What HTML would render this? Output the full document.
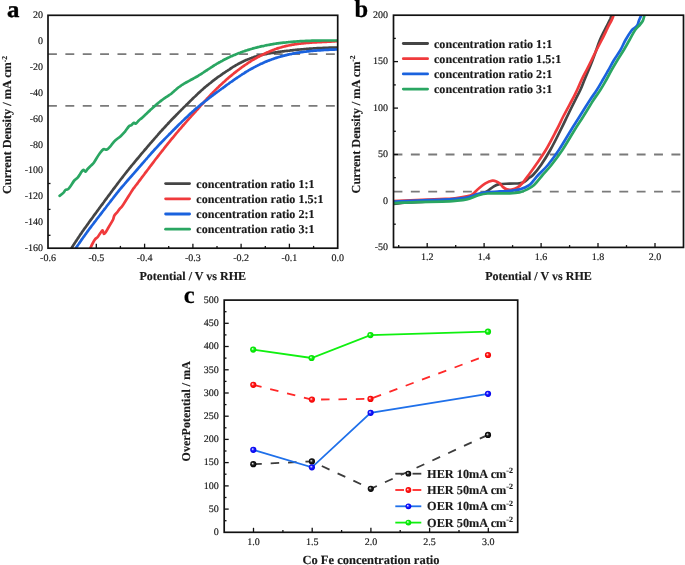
<!DOCTYPE html>
<html><head><meta charset="utf-8"><style>
html,body{margin:0;padding:0;background:#fff;width:685px;height:565px;overflow:hidden}
svg{display:block;filter:blur(0.4px)}
text{font-family:"Liberation Serif",serif;fill:#1a1a1a;text-rendering:geometricPrecision}
.tl{font-size:10px;stroke:#1a1a1a;stroke-width:0.18px}
.lg{font-size:12.1px;font-weight:bold;stroke:#1a1a1a;stroke-width:0.15px}
.at{font-size:12.5px;font-weight:bold;stroke:#1a1a1a;stroke-width:0.15px}
.at2{font-size:12.05px;font-weight:bold;stroke:#1a1a1a;stroke-width:0.15px}
.sup{font-size:7.5px}
.lgc{font-size:12.3px}
.at3{font-size:12.25px}
.sup2{font-size:8px}
.pl{font-size:23px;font-weight:bold;fill:#000}
</style></head><body>
<svg width="685" height="565" viewBox="0 0 685 565">
<defs>
<radialGradient id="g111" cx="0.5" cy="0.5" r="0.5" fx="0.36" fy="0.37"><stop offset="0" stop-color="#f0f0f0"/><stop offset="0.12" stop-color="#c8c8c8"/><stop offset="0.45" stop-color="#222"/><stop offset="1" stop-color="#000"/></radialGradient>
<radialGradient id="gff0000" cx="0.5" cy="0.5" r="0.5" fx="0.36" fy="0.37"><stop offset="0" stop-color="#fff0f0"/><stop offset="0.12" stop-color="#ffc0c0"/><stop offset="0.45" stop-color="#ff1a1a"/><stop offset="1" stop-color="#f00000"/></radialGradient>
<radialGradient id="g0a0aff" cx="0.5" cy="0.5" r="0.5" fx="0.36" fy="0.37"><stop offset="0" stop-color="#f0f0ff"/><stop offset="0.12" stop-color="#c0c0ff"/><stop offset="0.45" stop-color="#1a1aff"/><stop offset="1" stop-color="#0000e8"/></radialGradient>
<radialGradient id="g00f000" cx="0.5" cy="0.5" r="0.5" fx="0.36" fy="0.37"><stop offset="0" stop-color="#f0fff0"/><stop offset="0.12" stop-color="#c0ffc0"/><stop offset="0.45" stop-color="#10f010"/><stop offset="1" stop-color="#00dd00"/></radialGradient><clipPath id="ca"><rect x="48.0" y="15.3" width="289.7" height="232.89999999999998"/></clipPath>
<clipPath id="cb"><rect x="393.5" y="15.2" width="290.0" height="232.20000000000002"/></clipPath></defs>
<line x1="48" y1="54.1" x2="337.7" y2="54.1" stroke="#7a7a7a" stroke-width="1.8" stroke-dasharray="8.9 8.47"/>
<line x1="48" y1="105.9" x2="337.7" y2="105.9" stroke="#7a7a7a" stroke-width="1.8" stroke-dasharray="8.9 8.47"/>
<line x1="72.1" y1="248.2" x2="72.1" y2="245.9" stroke="#111" stroke-width="1.3"/>
<line x1="96.3" y1="248.2" x2="96.3" y2="243.7" stroke="#111" stroke-width="1.3"/>
<line x1="120.4" y1="248.2" x2="120.4" y2="245.9" stroke="#111" stroke-width="1.3"/>
<line x1="144.6" y1="248.2" x2="144.6" y2="243.7" stroke="#111" stroke-width="1.3"/>
<line x1="168.7" y1="248.2" x2="168.7" y2="245.9" stroke="#111" stroke-width="1.3"/>
<line x1="192.9" y1="248.2" x2="192.9" y2="243.7" stroke="#111" stroke-width="1.3"/>
<line x1="217" y1="248.2" x2="217" y2="245.9" stroke="#111" stroke-width="1.3"/>
<line x1="241.1" y1="248.2" x2="241.1" y2="243.7" stroke="#111" stroke-width="1.3"/>
<line x1="265.3" y1="248.2" x2="265.3" y2="245.9" stroke="#111" stroke-width="1.3"/>
<line x1="289.4" y1="248.2" x2="289.4" y2="243.7" stroke="#111" stroke-width="1.3"/>
<line x1="313.6" y1="248.2" x2="313.6" y2="245.9" stroke="#111" stroke-width="1.3"/>
<line x1="48" y1="183.5" x2="50.5" y2="183.5" stroke="#111" stroke-width="1.3"/>
<line x1="48" y1="209.4" x2="50.5" y2="209.4" stroke="#111" stroke-width="1.3"/>
<line x1="48" y1="235.3" x2="50.5" y2="235.3" stroke="#111" stroke-width="1.3"/>
<text x="48" y="261.2" class="tl" text-anchor="middle">-0.6</text>
<text x="96.3" y="261.2" class="tl" text-anchor="middle">-0.5</text>
<text x="144.6" y="261.2" class="tl" text-anchor="middle">-0.4</text>
<text x="192.9" y="261.2" class="tl" text-anchor="middle">-0.3</text>
<text x="241.1" y="261.2" class="tl" text-anchor="middle">-0.2</text>
<text x="289.4" y="261.2" class="tl" text-anchor="middle">-0.1</text>
<text x="337.7" y="261.2" class="tl" text-anchor="middle">0.0</text>
<text x="43" y="18.1" class="tl" text-anchor="end">20</text>
<text x="43" y="44" class="tl" text-anchor="end">0</text>
<text x="43" y="69.9" class="tl" text-anchor="end">-20</text>
<text x="43" y="95.7" class="tl" text-anchor="end">-40</text>
<text x="43" y="121.6" class="tl" text-anchor="end">-60</text>
<text x="43" y="147.5" class="tl" text-anchor="end">-80</text>
<text x="43" y="173.4" class="tl" text-anchor="end">-100</text>
<text x="43" y="199.2" class="tl" text-anchor="end">-120</text>
<text x="43" y="225.1" class="tl" text-anchor="end">-140</text>
<text x="43" y="251" class="tl" text-anchor="end">-160</text>
<g clip-path="url(#ca)" fill="none" stroke-width="2.7" stroke-linejoin="round" stroke-linecap="round">
<path d="M71.6,248 C71.9,247.5 72.9,245.9 73.6,244.8 C74.3,243.8 74.9,242.7 75.6,241.7 C76.3,240.7 76.9,239.7 77.6,238.7 C78.3,237.7 78.9,236.7 79.6,235.7 C80.3,234.7 80.9,233.7 81.6,232.8 C82.3,231.8 82.9,230.9 83.6,229.9 C84.3,229 84.9,228 85.6,227.1 C86.3,226.1 86.9,225.2 87.6,224.3 C88.3,223.4 88.9,222.4 89.6,221.5 C90.3,220.6 90.9,219.7 91.6,218.8 C92.3,217.9 92.9,217 93.6,216 C94.3,215.1 94.9,214.2 95.6,213.3 C96.3,212.4 96.9,211.5 97.6,210.6 C98.3,209.7 98.9,208.8 99.6,207.9 C100.3,207 100.9,206.1 101.6,205.2 C102.3,204.3 102.9,203.4 103.6,202.5 C104.3,201.5 104.9,200.6 105.6,199.7 C106.3,198.8 106.9,197.9 107.6,197 C108.3,196.1 108.9,195.2 109.6,194.3 C110.3,193.4 110.9,192.5 111.6,191.6 C112.3,190.7 112.9,189.8 113.6,188.9 C114.3,188 114.9,187.2 115.6,186.3 C116.3,185.4 116.9,184.5 117.6,183.6 C118.3,182.7 118.9,181.9 119.6,181 C120.3,180.1 120.9,179.2 121.6,178.4 C122.3,177.5 122.9,176.7 123.6,175.8 C124.3,174.9 124.9,174.1 125.6,173.2 C126.3,172.4 126.9,171.6 127.6,170.7 C128.3,169.9 128.9,169 129.6,168.2 C130.3,167.4 130.9,166.6 131.6,165.7 C132.3,164.9 132.9,164.1 133.6,163.3 C134.3,162.5 134.9,161.7 135.6,160.9 C136.3,160.1 136.9,159.3 137.6,158.5 C138.3,157.7 138.9,156.9 139.6,156.1 C140.3,155.3 140.9,154.5 141.6,153.7 C142.3,152.9 142.9,152.1 143.6,151.4 C144.3,150.6 144.9,149.8 145.6,149 C146.3,148.2 146.9,147.4 147.6,146.6 C148.3,145.9 148.9,145.1 149.6,144.3 C150.3,143.5 150.9,142.7 151.6,142 C152.3,141.2 152.9,140.4 153.6,139.7 C154.3,138.9 154.9,138.1 155.6,137.4 C156.3,136.6 156.9,135.8 157.6,135.1 C158.3,134.3 158.9,133.6 159.6,132.8 C160.3,132.1 160.9,131.3 161.6,130.6 C162.3,129.9 162.9,129.1 163.6,128.4 C164.3,127.7 164.9,126.9 165.6,126.2 C166.3,125.5 166.9,124.8 167.6,124.1 C168.3,123.4 168.9,122.6 169.6,121.9 C170.3,121.2 170.9,120.5 171.6,119.8 C172.3,119.1 172.9,118.5 173.6,117.8 C174.3,117.1 174.9,116.4 175.6,115.7 C176.3,115 176.9,114.3 177.6,113.7 C178.3,113 178.9,112.3 179.6,111.6 C180.3,111 180.9,110.3 181.6,109.6 C182.3,109 182.9,108.3 183.6,107.6 C184.3,107 184.9,106.3 185.6,105.7 C186.3,105 186.9,104.3 187.6,103.7 C188.3,103 188.9,102.4 189.6,101.7 C190.3,101.1 190.9,100.4 191.6,99.8 C192.3,99.1 192.9,98.5 193.6,97.8 C194.3,97.2 194.9,96.5 195.6,95.9 C196.3,95.3 196.9,94.6 197.6,94 C198.3,93.4 198.9,92.7 199.6,92.1 C200.3,91.5 200.9,90.9 201.6,90.3 C202.3,89.7 202.9,89.1 203.6,88.5 C204.3,87.9 204.9,87.4 205.6,86.8 C206.3,86.2 206.9,85.7 207.6,85.1 C208.3,84.6 208.9,84.1 209.6,83.5 C210.3,83 210.9,82.5 211.6,81.9 C212.3,81.4 212.9,80.9 213.6,80.4 C214.3,79.9 214.9,79.4 215.6,78.9 C216.3,78.4 216.9,77.9 217.6,77.4 C218.3,77 218.9,76.5 219.6,76 C220.3,75.5 220.9,75.1 221.6,74.6 C222.3,74.1 222.9,73.7 223.6,73.2 C224.3,72.8 224.9,72.3 225.6,71.9 C226.3,71.4 226.9,71 227.6,70.6 C228.3,70.1 228.9,69.7 229.6,69.3 C230.3,68.8 230.9,68.4 231.6,68 C232.3,67.5 232.9,67.1 233.6,66.7 C234.3,66.3 234.9,65.9 235.6,65.5 C236.3,65.1 236.9,64.7 237.6,64.3 C238.3,64 238.9,63.6 239.6,63.2 C240.3,62.9 240.9,62.5 241.6,62.2 C242.3,61.9 242.9,61.5 243.6,61.2 C244.3,60.9 244.9,60.6 245.6,60.3 C246.3,60 246.9,59.7 247.6,59.5 C248.3,59.2 248.9,58.9 249.6,58.7 C250.3,58.4 250.9,58.2 251.6,57.9 C252.3,57.7 252.9,57.5 253.6,57.3 C254.3,57 254.9,56.8 255.6,56.6 C256.3,56.4 256.9,56.2 257.6,56 C258.3,55.9 258.9,55.7 259.6,55.5 C260.3,55.3 260.9,55.2 261.6,55 C262.3,54.8 262.9,54.7 263.6,54.5 C264.3,54.4 264.9,54.2 265.6,54.1 C266.3,54 266.9,53.8 267.6,53.7 C268.3,53.6 268.9,53.5 269.6,53.3 C270.3,53.2 270.9,53.1 271.6,53 C272.3,52.9 272.9,52.8 273.6,52.7 C274.3,52.6 274.9,52.5 275.6,52.4 C276.3,52.3 276.9,52.2 277.6,52.1 C278.3,52 278.9,51.9 279.6,51.8 C280.3,51.7 280.9,51.6 281.6,51.5 C282.3,51.4 282.9,51.4 283.6,51.3 C284.3,51.2 284.9,51.1 285.6,51 C286.3,50.9 286.9,50.9 287.6,50.8 C288.3,50.7 288.9,50.6 289.6,50.6 C290.3,50.5 290.9,50.4 291.6,50.3 C292.3,50.3 292.9,50.2 293.6,50.1 C294.3,50 294.9,50 295.6,49.9 C296.3,49.8 296.9,49.8 297.6,49.7 C298.3,49.6 298.9,49.6 299.6,49.5 C300.3,49.5 300.9,49.4 301.6,49.3 C302.3,49.3 302.9,49.2 303.6,49.2 C304.3,49.1 304.9,49.1 305.6,49 C306.3,49 306.9,48.9 307.6,48.9 C308.3,48.8 308.9,48.8 309.6,48.7 C310.3,48.7 310.9,48.6 311.6,48.6 C312.3,48.5 312.9,48.5 313.6,48.4 C314.3,48.4 314.9,48.4 315.6,48.3 C316.3,48.3 316.9,48.3 317.6,48.2 C318.3,48.2 318.9,48.1 319.6,48.1 C320.3,48.1 320.9,48 321.6,48 C322.3,48 322.9,48 323.6,47.9 C324.3,47.9 324.9,47.9 325.6,47.8 C326.3,47.8 326.9,47.8 327.6,47.8 C328.3,47.7 328.9,47.7 329.6,47.7 C330.3,47.7 330.9,47.7 331.6,47.6 C332.3,47.6 332.9,47.6 333.6,47.6 C334.3,47.6 335.1,47.6 335.6,47.6 C336.1,47.5 336.6,47.5 336.8,47.5" stroke="#454545"/>
<path d="M90.4,248 C90.8,247.2 91.8,245 92.6,243.5 C93.4,242 94.4,240.2 95.2,239.2 C96,238.2 96.5,238.4 97.4,237.4 C98.3,236.4 99.5,234.2 100.4,233 C101.3,231.8 102,230.2 102.6,230.4 C103.2,230.6 103.4,233.6 103.9,233.9 C104.4,234.2 105,233.2 105.7,232.2 C106.4,231.2 107.4,229.3 108.3,227.8 C109.2,226.3 110.1,224.8 110.9,223.4 C111.7,222 112.5,220.8 113.1,219.5 C113.7,218.2 113.7,216.7 114.4,215.5 C115.1,214.3 116.2,213.5 117.1,212.4 C118,211.3 118.7,210.1 119.7,208.9 C120.7,207.7 120.9,208.1 123,205 C125.1,201.9 130.6,192.9 132.5,190 C134.4,187.1 133.8,188.2 134.5,187.3 C135.2,186.4 135.8,185.5 136.5,184.7 C137.2,183.8 137.8,182.9 138.5,182 C139.2,181.1 139.8,180.2 140.5,179.3 C141.2,178.4 141.8,177.5 142.5,176.6 C143.2,175.8 143.8,174.9 144.5,174 C145.2,173.1 145.8,172.2 146.5,171.3 C147.2,170.4 147.8,169.6 148.5,168.7 C149.2,167.8 149.8,166.9 150.5,166 C151.2,165.2 151.8,164.3 152.5,163.4 C153.2,162.5 153.8,161.7 154.5,160.8 C155.2,159.9 155.8,159 156.5,158.2 C157.2,157.3 157.8,156.5 158.5,155.6 C159.2,154.7 159.8,153.9 160.5,153 C161.2,152.2 161.8,151.3 162.5,150.5 C163.2,149.6 163.8,148.8 164.5,147.9 C165.2,147.1 165.8,146.2 166.5,145.4 C167.2,144.6 167.8,143.7 168.5,142.9 C169.2,142.1 169.8,141.3 170.5,140.4 C171.2,139.6 171.8,138.8 172.5,138 C173.2,137.2 173.8,136.4 174.5,135.6 C175.2,134.8 175.8,134 176.5,133.2 C177.2,132.4 177.8,131.6 178.5,130.8 C179.2,130 179.8,129.2 180.5,128.5 C181.2,127.7 181.8,126.9 182.5,126.1 C183.2,125.4 183.8,124.6 184.5,123.9 C185.2,123.1 185.8,122.3 186.5,121.6 C187.2,120.8 187.8,120.1 188.5,119.3 C189.2,118.6 189.8,117.8 190.5,117.1 C191.2,116.3 191.8,115.6 192.5,114.8 C193.2,114.1 193.8,113.4 194.5,112.6 C195.2,111.9 195.8,111.1 196.5,110.4 C197.2,109.7 197.8,108.9 198.5,108.2 C199.2,107.4 199.8,106.7 200.5,105.9 C201.2,105.2 201.8,104.5 202.5,103.7 C203.2,103 203.8,102.3 204.5,101.5 C205.2,100.8 205.8,100.1 206.5,99.3 C207.2,98.6 207.8,97.9 208.5,97.2 C209.2,96.5 209.8,95.8 210.5,95 C211.2,94.3 211.8,93.6 212.5,93 C213.2,92.3 213.8,91.6 214.5,90.9 C215.2,90.2 215.8,89.6 216.5,88.9 C217.2,88.2 217.8,87.6 218.5,87 C219.2,86.3 219.8,85.7 220.5,85.1 C221.2,84.4 221.8,83.8 222.5,83.2 C223.2,82.6 223.8,82 224.5,81.4 C225.2,80.8 225.8,80.2 226.5,79.6 C227.2,79 227.8,78.4 228.5,77.9 C229.2,77.3 229.8,76.7 230.5,76.2 C231.2,75.6 231.8,75.1 232.5,74.5 C233.2,74 233.8,73.4 234.5,72.9 C235.2,72.4 235.8,71.8 236.5,71.3 C237.2,70.8 237.8,70.3 238.5,69.8 C239.2,69.3 239.8,68.8 240.5,68.3 C241.2,67.8 241.8,67.3 242.5,66.8 C243.2,66.4 243.8,65.9 244.5,65.4 C245.2,65 245.8,64.5 246.5,64.1 C247.2,63.6 247.8,63.2 248.5,62.7 C249.2,62.3 249.8,61.9 250.5,61.5 C251.2,61 251.8,60.6 252.5,60.2 C253.2,59.8 253.8,59.4 254.5,59 C255.2,58.6 255.8,58.2 256.5,57.9 C257.2,57.5 257.8,57.1 258.5,56.8 C259.2,56.4 259.8,56 260.5,55.7 C261.2,55.3 261.8,55 262.5,54.7 C263.2,54.3 263.8,54 264.5,53.7 C265.2,53.4 265.8,53.1 266.5,52.8 C267.2,52.5 267.8,52.2 268.5,51.9 C269.2,51.6 269.8,51.3 270.5,51 C271.2,50.8 271.8,50.5 272.5,50.2 C273.2,50 273.8,49.7 274.5,49.5 C275.2,49.2 275.8,49 276.5,48.8 C277.2,48.5 277.8,48.3 278.5,48.1 C279.2,47.9 279.8,47.7 280.5,47.5 C281.2,47.3 281.8,47.1 282.5,46.9 C283.2,46.8 283.8,46.6 284.5,46.4 C285.2,46.2 285.8,46.1 286.5,45.9 C287.2,45.8 287.8,45.6 288.5,45.5 C289.2,45.4 289.8,45.2 290.5,45.1 C291.2,45 291.8,44.8 292.5,44.7 C293.2,44.6 293.8,44.5 294.5,44.4 C295.2,44.3 295.8,44.2 296.5,44.1 C297.2,44 297.8,43.9 298.5,43.8 C299.2,43.7 299.8,43.6 300.5,43.6 C301.2,43.5 301.8,43.4 302.5,43.3 C303.2,43.3 303.8,43.2 304.5,43.1 C305.2,43.1 305.8,43 306.5,43 C307.2,42.9 307.8,42.9 308.5,42.8 C309.2,42.7 309.8,42.7 310.5,42.7 C311.2,42.6 311.8,42.6 312.5,42.5 C313.2,42.5 313.8,42.4 314.5,42.4 C315.2,42.4 315.8,42.3 316.5,42.3 C317.2,42.3 317.8,42.2 318.5,42.2 C319.2,42.1 319.8,42.1 320.5,42.1 C321.2,42.1 321.8,42 322.5,42 C323.2,42 323.8,41.9 324.5,41.9 C325.2,41.9 325.8,41.8 326.5,41.8 C327.2,41.8 327.8,41.7 328.5,41.7 C329.2,41.7 329.8,41.6 330.5,41.6 C331.2,41.5 331.8,41.5 332.5,41.5 C333.2,41.4 333.8,41.4 334.5,41.3 C335.2,41.3 336.1,41.2 336.5,41.2 C336.9,41.2 336.8,41.2 336.8,41.2" stroke="#f03a3c"/>
<path d="M76,248 C76.3,247.5 77.3,246 78,245 C78.7,244 79.3,243 80,242.1 C80.7,241.1 81.3,240.1 82,239.2 C82.7,238.2 83.3,237.3 84,236.4 C84.7,235.4 85.3,234.5 86,233.6 C86.7,232.7 87.3,231.8 88,230.9 C88.7,230 89.3,229.1 90,228.2 C90.7,227.3 91.3,226.4 92,225.5 C92.7,224.6 93.3,223.8 94,222.9 C94.7,222 95.3,221.1 96,220.3 C96.7,219.4 97.3,218.5 98,217.7 C98.7,216.8 99.3,215.9 100,215.1 C100.7,214.2 101.3,213.3 102,212.5 C102.7,211.6 103.3,210.7 104,209.9 C104.7,209 105.3,208.1 106,207.3 C106.7,206.4 107.3,205.5 108,204.7 C108.7,203.8 109.3,202.9 110,202.1 C110.7,201.2 111.3,200.3 112,199.5 C112.7,198.6 113.3,197.8 114,196.9 C114.7,196.1 115.3,195.2 116,194.4 C116.7,193.5 117.3,192.7 118,191.9 C118.7,191 119.3,190.2 120,189.4 C120.7,188.6 121.3,187.8 122,187 C122.7,186.2 123.3,185.4 124,184.7 C124.7,183.9 125.3,183.1 126,182.3 C126.7,181.5 127.3,180.8 128,180 C128.7,179.2 129.3,178.5 130,177.7 C130.7,177 131.3,176.2 132,175.5 C132.7,174.7 133.3,173.9 134,173.2 C134.7,172.4 135.3,171.7 136,170.9 C136.7,170.1 137.3,169.4 138,168.6 C138.7,167.8 139.3,167.1 140,166.3 C140.7,165.5 141.3,164.8 142,164 C142.7,163.2 143.3,162.4 144,161.7 C144.7,160.9 145.3,160.1 146,159.4 C146.7,158.6 147.3,157.8 148,157.1 C148.7,156.3 149.3,155.6 150,154.8 C150.7,154 151.3,153.3 152,152.5 C152.7,151.8 153.3,151.1 154,150.3 C154.7,149.6 155.3,148.9 156,148.1 C156.7,147.4 157.3,146.7 158,146 C158.7,145.3 159.3,144.5 160,143.8 C160.7,143.1 161.3,142.4 162,141.7 C162.7,141 163.3,140.4 164,139.7 C164.7,139 165.3,138.3 166,137.6 C166.7,136.9 167.3,136.3 168,135.6 C168.7,134.9 169.3,134.2 170,133.6 C170.7,132.9 171.3,132.2 172,131.5 C172.7,130.9 173.3,130.2 174,129.5 C174.7,128.9 175.3,128.2 176,127.5 C176.7,126.9 177.3,126.2 178,125.5 C178.7,124.9 179.3,124.2 180,123.6 C180.7,122.9 181.3,122.3 182,121.6 C182.7,121 183.3,120.3 184,119.7 C184.7,119 185.3,118.4 186,117.8 C186.7,117.1 187.3,116.5 188,115.9 C188.7,115.2 189.3,114.6 190,114 C190.7,113.4 191.3,112.8 192,112.2 C192.7,111.6 193.3,111 194,110.4 C194.7,109.8 195.3,109.2 196,108.7 C196.7,108.1 197.3,107.5 198,107 C198.7,106.4 199.3,105.8 200,105.3 C200.7,104.7 201.3,104.2 202,103.7 C202.7,103.1 203.3,102.6 204,102.1 C204.7,101.5 205.3,101 206,100.5 C206.7,100 207.3,99.5 208,98.9 C208.7,98.4 209.3,97.9 210,97.4 C210.7,96.9 211.3,96.4 212,95.9 C212.7,95.4 213.3,94.9 214,94.4 C214.7,93.9 215.3,93.4 216,92.9 C216.7,92.4 217.3,92 218,91.5 C218.7,91 219.3,90.5 220,90 C220.7,89.5 221.3,89 222,88.5 C222.7,88 223.3,87.6 224,87.1 C224.7,86.6 225.3,86.1 226,85.6 C226.7,85.1 227.3,84.6 228,84.2 C228.7,83.7 229.3,83.2 230,82.7 C230.7,82.3 231.3,81.8 232,81.3 C232.7,80.8 233.3,80.4 234,79.9 C234.7,79.4 235.3,79 236,78.5 C236.7,78.1 237.3,77.6 238,77.2 C238.7,76.7 239.3,76.3 240,75.8 C240.7,75.4 241.3,75 242,74.5 C242.7,74.1 243.3,73.7 244,73.3 C244.7,72.8 245.3,72.4 246,72 C246.7,71.6 247.3,71.2 248,70.8 C248.7,70.4 249.3,70 250,69.6 C250.7,69.2 251.3,68.9 252,68.5 C252.7,68.1 253.3,67.8 254,67.4 C254.7,67 255.3,66.7 256,66.3 C256.7,66 257.3,65.7 258,65.3 C258.7,65 259.3,64.7 260,64.3 C260.7,64 261.3,63.7 262,63.4 C262.7,63.1 263.3,62.8 264,62.5 C264.7,62.2 265.3,61.9 266,61.6 C266.7,61.4 267.3,61.1 268,60.8 C268.7,60.6 269.3,60.3 270,60 C270.7,59.8 271.3,59.5 272,59.3 C272.7,59.1 273.3,58.8 274,58.6 C274.7,58.4 275.3,58.1 276,57.9 C276.7,57.7 277.3,57.5 278,57.3 C278.7,57.1 279.3,56.9 280,56.7 C280.7,56.5 281.3,56.3 282,56.1 C282.7,55.9 283.3,55.8 284,55.6 C284.7,55.4 285.3,55.3 286,55.1 C286.7,54.9 287.3,54.8 288,54.6 C288.7,54.5 289.3,54.3 290,54.2 C290.7,54 291.3,53.9 292,53.8 C292.7,53.6 293.3,53.5 294,53.4 C294.7,53.3 295.3,53.1 296,53 C296.7,52.9 297.3,52.8 298,52.7 C298.7,52.6 299.3,52.5 300,52.4 C300.7,52.3 301.3,52.2 302,52.1 C302.7,52 303.3,51.9 304,51.8 C304.7,51.7 305.3,51.6 306,51.6 C306.7,51.5 307.3,51.4 308,51.3 C308.7,51.3 309.3,51.2 310,51.1 C310.7,51 311.3,51 312,50.9 C312.7,50.9 313.3,50.8 314,50.7 C314.7,50.7 315.3,50.6 316,50.6 C316.7,50.5 317.3,50.5 318,50.4 C318.7,50.4 319.3,50.3 320,50.3 C320.7,50.2 321.3,50.2 322,50.2 C322.7,50.1 323.3,50.1 324,50 C324.7,50 325.3,50 326,49.9 C326.7,49.9 327.3,49.9 328,49.8 C328.7,49.8 329.3,49.8 330,49.7 C330.7,49.7 331.3,49.7 332,49.6 C332.7,49.6 333.3,49.6 334,49.6 C334.7,49.5 335.5,49.5 336,49.5 C336.5,49.5 336.7,49.4 336.8,49.4" stroke="#1a62de"/>
<path d="M59.6,195.8 C60.3,195.3 62.6,193.6 63.6,192.6 C64.6,191.6 64.6,190.6 65.4,190 C66.2,189.4 67.4,189.7 68.3,189 C69.2,188.3 69.8,187.2 70.8,185.8 C71.8,184.4 73.1,181.9 74.3,180.5 C75.5,179.1 76.9,178.6 77.9,177.4 C78.9,176.2 79.6,174.7 80.5,173.4 C81.4,172.2 82.4,170.2 83.2,169.9 C84,169.6 84.7,171.8 85.4,171.6 C86.1,171.4 86.6,170 87.6,169 C88.6,168 90.1,166.5 91.2,165.4 C92.3,164.3 92.7,164.3 94,162.4 C95.3,160.5 97.7,156.2 99.3,154 C100.9,151.8 102.1,150 103.4,149.3 C104.7,148.6 105.7,150.1 106.9,149.6 C108.1,149.1 109.2,147.8 110.4,146.4 C111.7,145 112.6,142.9 114.4,141.2 C116.2,139.4 119.2,137.5 120.9,135.9 C122.7,134.3 123.6,133.2 125,131.6 C126.3,130 128,127.2 129,126.2 C130,125.2 130.1,126.1 130.9,125.5 C131.8,124.9 133.2,123.1 134,122.8 C134.8,122.5 135.1,124 135.9,123.6 C136.7,123.2 137.9,121.4 138.9,120.4 C139.9,119.5 140.7,119 141.9,117.9 C143.1,116.8 145.1,115 146.1,114.1 C147.1,113.1 147.4,112.8 148.1,112.1 C148.8,111.5 149.4,110.9 150.1,110.2 C150.8,109.6 151.4,109 152.1,108.4 C152.8,107.8 153.4,107.2 154.1,106.6 C154.8,106 155.4,105.4 156.1,104.8 C156.8,104.2 157.4,103.6 158.1,103.1 C158.8,102.5 159.4,102 160.1,101.5 C160.8,101 161.4,100.4 162.1,100 C162.8,99.5 163.4,99 164.1,98.5 C164.8,98.1 165.4,97.7 166.1,97.2 C166.8,96.8 167.4,96.4 168.1,95.9 C168.8,95.4 169.4,95 170.1,94.5 C170.8,94 171.4,93.5 172.1,92.9 C172.8,92.4 173.4,91.8 174.1,91.2 C174.8,90.6 175.4,90 176.1,89.4 C176.8,88.8 177.4,88.3 178.1,87.7 C178.8,87.2 179.4,86.7 180.1,86.3 C180.8,85.8 181.4,85.3 182.1,84.9 C182.8,84.5 183.4,84.1 184.1,83.7 C184.8,83.3 185.4,82.9 186.1,82.5 C186.8,82.1 187.4,81.8 188.1,81.4 C188.8,81.1 189.4,80.7 190.1,80.3 C190.8,80 191.4,79.6 192.1,79.3 C192.8,78.9 193.4,78.6 194.1,78.2 C194.8,77.8 195.4,77.4 196.1,77 C196.8,76.7 197.4,76.3 198.1,75.9 C198.8,75.4 199.4,75 200.1,74.6 C200.8,74.2 201.4,73.8 202.1,73.3 C202.8,72.9 203.4,72.5 204.1,72 C204.8,71.6 205.4,71.2 206.1,70.7 C206.8,70.3 207.4,69.8 208.1,69.4 C208.8,69 209.4,68.5 210.1,68.1 C210.8,67.6 211.4,67.2 212.1,66.8 C212.8,66.4 213.4,65.9 214.1,65.5 C214.8,65.1 215.4,64.7 216.1,64.3 C216.8,63.9 217.4,63.5 218.1,63.1 C218.8,62.7 219.4,62.3 220.1,62 C220.8,61.6 221.4,61.2 222.1,60.9 C222.8,60.5 223.4,60.1 224.1,59.8 C224.8,59.5 225.4,59.1 226.1,58.8 C226.8,58.4 227.4,58.1 228.1,57.8 C228.8,57.5 229.4,57.2 230.1,56.8 C230.8,56.5 231.4,56.2 232.1,55.9 C232.8,55.6 233.4,55.4 234.1,55.1 C234.8,54.8 235.4,54.5 236.1,54.2 C236.8,54 237.4,53.7 238.1,53.4 C238.8,53.2 239.4,52.9 240.1,52.7 C240.8,52.4 241.4,52.2 242.1,51.9 C242.8,51.7 243.4,51.4 244.1,51.2 C244.8,51 245.4,50.8 246.1,50.5 C246.8,50.3 247.4,50.1 248.1,49.9 C248.8,49.7 249.4,49.5 250.1,49.3 C250.8,49.1 251.4,48.9 252.1,48.7 C252.8,48.5 253.4,48.3 254.1,48.1 C254.8,48 255.4,47.8 256.1,47.6 C256.8,47.4 257.4,47.3 258.1,47.1 C258.8,47 259.4,46.8 260.1,46.6 C260.8,46.5 261.4,46.3 262.1,46.2 C262.8,46 263.4,45.9 264.1,45.8 C264.8,45.6 265.4,45.5 266.1,45.3 C266.8,45.2 267.4,45.1 268.1,45 C268.8,44.8 269.4,44.7 270.1,44.6 C270.8,44.5 271.4,44.4 272.1,44.3 C272.8,44.1 273.4,44 274.1,43.9 C274.8,43.8 275.4,43.7 276.1,43.6 C276.8,43.5 277.4,43.4 278.1,43.3 C278.8,43.2 279.4,43.2 280.1,43.1 C280.8,43 281.4,42.9 282.1,42.8 C282.8,42.7 283.4,42.7 284.1,42.6 C284.8,42.5 285.4,42.4 286.1,42.4 C286.8,42.3 287.4,42.2 288.1,42.2 C288.8,42.1 289.4,42 290.1,42 C290.8,41.9 291.4,41.9 292.1,41.8 C292.8,41.8 293.4,41.7 294.1,41.6 C294.8,41.6 295.4,41.5 296.1,41.5 C296.8,41.5 297.4,41.4 298.1,41.4 C298.8,41.3 299.4,41.3 300.1,41.2 C300.8,41.2 301.4,41.2 302.1,41.1 C302.8,41.1 303.4,41.1 304.1,41 C304.8,41 305.4,41 306.1,40.9 C306.8,40.9 307.4,40.9 308.1,40.9 C308.8,40.8 309.4,40.8 310.1,40.8 C310.8,40.8 311.4,40.8 312.1,40.7 C312.8,40.7 313.4,40.7 314.1,40.7 C314.8,40.7 315.4,40.7 316.1,40.6 C316.8,40.6 317.4,40.6 318.1,40.6 C318.8,40.6 319.4,40.6 320.1,40.6 C320.8,40.6 321.4,40.6 322.1,40.5 C322.8,40.5 323.4,40.5 324.1,40.5 C324.8,40.5 325.4,40.5 326.1,40.5 C326.8,40.5 327.4,40.5 328.1,40.5 C328.8,40.5 329.4,40.5 330.1,40.5 C330.8,40.5 331.4,40.5 332.1,40.5 C332.8,40.5 333.4,40.5 334.1,40.5 C334.8,40.5 335.6,40.5 336.1,40.5 C336.6,40.5 336.9,40.5 337.1,40.5" stroke="#2aa662"/>
</g>
<rect x="48" y="15.3" width="289.7" height="232.9" fill="none" stroke="#111" stroke-width="1.7"/>
<line x1="165.6" y1="183.6" x2="189.6" y2="183.6" stroke="#454545" stroke-width="2.8" stroke-linecap="round"/>
<text x="196.3" y="187.8" class="lg">concentration ratio 1:1</text>
<line x1="165.6" y1="198.8" x2="189.6" y2="198.8" stroke="#f03a3c" stroke-width="2.8" stroke-linecap="round"/>
<text x="196.3" y="203" class="lg">concentration ratio 1.5:1</text>
<line x1="165.6" y1="214" x2="189.6" y2="214" stroke="#1a62de" stroke-width="2.8" stroke-linecap="round"/>
<text x="196.3" y="218.2" class="lg">concentration ratio 2:1</text>
<line x1="165.6" y1="229.2" x2="189.6" y2="229.2" stroke="#2aa662" stroke-width="2.8" stroke-linecap="round"/>
<text x="196.3" y="233.4" class="lg">concentration ratio 3:1</text>
<text x="192.8" y="279.8" class="at2" text-anchor="middle">Potential / V vs RHE</text>
<text transform="translate(11.0,125) rotate(-90)" class="at at3" text-anchor="middle">Current Density / mA cm<tspan class="sup" dy="-4.5">-2</tspan></text>
<text transform="translate(7,16.8) scale(1.08,1)" class="pl" style="stroke:#000;stroke-width:0.35px">a</text>
<line x1="393.5" y1="191.7" x2="683.5" y2="191.7" stroke="#7a7a7a" stroke-width="1.8" stroke-dasharray="8.9 8.47"/>
<line x1="393.5" y1="154.5" x2="683.5" y2="154.5" stroke="#7a7a7a" stroke-width="1.8" stroke-dasharray="8.9 8.47"/>
<line x1="398.7" y1="247.4" x2="398.7" y2="245.1" stroke="#111" stroke-width="1.3"/>
<line x1="427.2" y1="247.4" x2="427.2" y2="242.9" stroke="#111" stroke-width="1.3"/>
<line x1="455.7" y1="247.4" x2="455.7" y2="245.1" stroke="#111" stroke-width="1.3"/>
<line x1="484.1" y1="247.4" x2="484.1" y2="242.9" stroke="#111" stroke-width="1.3"/>
<line x1="512.6" y1="247.4" x2="512.6" y2="245.1" stroke="#111" stroke-width="1.3"/>
<line x1="541.1" y1="247.4" x2="541.1" y2="242.9" stroke="#111" stroke-width="1.3"/>
<line x1="569.6" y1="247.4" x2="569.6" y2="245.1" stroke="#111" stroke-width="1.3"/>
<line x1="598" y1="247.4" x2="598" y2="242.9" stroke="#111" stroke-width="1.3"/>
<line x1="626.5" y1="247.4" x2="626.5" y2="245.1" stroke="#111" stroke-width="1.3"/>
<line x1="655" y1="247.4" x2="655" y2="242.9" stroke="#111" stroke-width="1.3"/>
<line x1="393.5" y1="38.4" x2="395.8" y2="38.4" stroke="#111" stroke-width="1.3"/>
<line x1="393.5" y1="61.6" x2="398" y2="61.6" stroke="#111" stroke-width="1.3"/>
<line x1="393.5" y1="84.9" x2="395.8" y2="84.9" stroke="#111" stroke-width="1.3"/>
<line x1="393.5" y1="108.1" x2="398" y2="108.1" stroke="#111" stroke-width="1.3"/>
<line x1="393.5" y1="131.3" x2="395.8" y2="131.3" stroke="#111" stroke-width="1.3"/>
<line x1="393.5" y1="154.5" x2="398" y2="154.5" stroke="#111" stroke-width="1.3"/>
<line x1="393.5" y1="177.7" x2="395.8" y2="177.7" stroke="#111" stroke-width="1.3"/>
<line x1="393.5" y1="201" x2="398" y2="201" stroke="#111" stroke-width="1.3"/>
<line x1="393.5" y1="224.2" x2="395.8" y2="224.2" stroke="#111" stroke-width="1.3"/>
<text x="427.2" y="260.4" class="tl" text-anchor="middle">1.2</text>
<text x="484.1" y="260.4" class="tl" text-anchor="middle">1.4</text>
<text x="541.1" y="260.4" class="tl" text-anchor="middle">1.6</text>
<text x="598" y="260.4" class="tl" text-anchor="middle">1.8</text>
<text x="655" y="260.4" class="tl" text-anchor="middle">2.0</text>
<text x="388" y="18" class="tl" text-anchor="end">200</text>
<text x="388" y="64.4" class="tl" text-anchor="end">150</text>
<text x="388" y="110.9" class="tl" text-anchor="end">100</text>
<text x="388" y="157.3" class="tl" text-anchor="end">50</text>
<text x="388" y="203.8" class="tl" text-anchor="end">0</text>
<text x="388" y="250.2" class="tl" text-anchor="end">-50</text>
<g clip-path="url(#cb)" fill="none" stroke-width="2.7" stroke-linejoin="round" stroke-linecap="round">
<path d="M393.5,203.9 C394.9,203.7 399.2,203.1 402,202.8 C404.8,202.5 406.2,202.5 410.5,202.3 C414.8,202.1 422.1,201.8 428,201.5 C433.9,201.2 441.1,200.9 445.6,200.6 C450.1,200.3 451.5,200.2 455,199.7 C458.5,199.2 462.8,198.5 466.7,197.6 C470.6,196.7 475.1,195.5 478.4,194.5 C481.7,193.5 484,192.9 486.5,191.6 C489,190.3 491.4,187.8 493.5,186.6 C495.6,185.4 496.7,184.7 499.4,184.2 C502.1,183.7 506.3,183.8 509.7,183.6 C513,183.4 517,183.6 519.5,183.3 C522,183 522.8,182.6 524.4,181.7 C526,180.8 527.8,178.9 529.2,177.8 C530.6,176.7 531,177.1 533,175 C535,172.9 538.1,169.2 541,165 C543.9,160.8 547,155.8 550.3,150 C553.6,144.2 557.8,135.7 560.6,130 C563.5,124.3 565,121 567.4,116 C569.8,111 573.1,104.3 575.3,100 C577.4,95.7 578.8,93.3 580.3,90 C581.8,86.7 583,83.3 584.4,80 C585.8,76.7 587.2,73.3 588.6,70 C590,66.7 591.3,63.3 592.6,60 C593.9,56.7 595.1,53.3 596.3,50 C597.5,46.7 598.5,43.3 599.9,40 C601.3,36.7 603.5,32.5 604.7,30 C605.9,27.5 606.4,26.8 607.3,25 C608.2,23.2 609.5,20.7 610.3,19 C611,17.3 611.5,15.7 611.8,15" stroke="#454545"/>
<path d="M393.5,201.2 C396.3,201.1 404.8,200.7 410.5,200.4 C416.2,200.2 422.1,199.9 428,199.7 C433.9,199.4 441.1,199.1 445.6,198.9 C450.1,198.7 451.5,198.8 455,198.4 C458.5,198 463.8,197.1 466.7,196.4 C469.6,195.7 470.6,195.6 472.5,194.3 C474.4,193 476.2,190.5 478.4,188.7 C480.5,186.9 483.1,184.7 485.4,183.4 C487.7,182.1 490.5,181 492.4,180.7 C494.3,180.4 495.7,181.2 497,181.7 C498.3,182.2 499.2,182.9 500.2,183.8 C501.2,184.7 501.8,186.1 502.9,187 C504,187.9 505.3,189 506.8,189.4 C508.3,189.8 509.9,190 511.7,189.7 C513.5,189.4 515.7,188.6 517.5,187.5 C519.3,186.4 520.6,185.1 522.5,183 C524.4,180.9 526.4,178 528.6,175 C530.8,172 532.9,169.2 535.8,165 C538.7,160.8 542.3,155.8 545.8,150 C549.3,144.2 553.6,135.7 556.6,130 C559.6,124.3 560.9,121 563.5,116 C566.1,111 569.8,104.3 572.1,100 C574.4,95.7 575.5,93.3 577.1,90 C578.7,86.7 579.9,83.3 581.5,80 C583.1,76.7 584.9,73.3 586.6,70 C588.3,66.7 590,63.3 591.6,60 C593.2,56.7 594.8,53.3 596.5,50 C598.2,46.7 600,43.3 601.7,40 C603.4,36.7 605.4,32.5 606.6,30 C607.8,27.5 608.2,26.5 609,25 C609.8,23.5 610.5,22.3 611.2,21 C611.9,19.7 612.6,18 613,17 C613.4,16 613.4,15.3 613.5,15" stroke="#f03a3c"/>
<path d="M393.5,201.6 C396.3,201.5 404.8,201 410.5,200.8 C416.2,200.6 422.8,200.4 428,200.2 C433.2,200 437.5,199.9 442,199.7 C446.5,199.5 450.9,199.3 455,198.9 C459.1,198.5 462.8,198.4 466.7,197.6 C470.6,196.8 474.9,194.8 478.4,193.9 C481.9,193 484.1,192.6 487.7,192.2 C491.3,191.8 496.3,191.6 500,191.4 C503.7,191.2 506.4,191.2 509.7,190.9 C513,190.6 516.2,190.4 519.5,189.4 C522.8,188.4 526.1,187.5 529.2,185.1 C532.3,182.7 535.1,178.3 538.2,175 C541.3,171.7 544.5,169.2 547.9,165 C551.3,160.8 555,155.8 558.9,150 C562.8,144.2 567.6,135.7 571.1,130 C574.6,124.3 576.8,121 579.9,116 C583,111 587.2,104.3 590,100 C592.8,95.7 594.7,93.3 596.8,90 C598.9,86.7 600.8,83.3 602.7,80 C604.7,76.7 606.6,73.3 608.5,70 C610.4,66.7 612,63.3 614,60 C616,56.7 618.6,53.3 620.5,50 C622.4,46.7 623.6,43.3 625.5,40 C627.4,36.7 630.4,32 631.9,30 C633.4,28 633.6,28.8 634.5,28 C635.4,27.2 636.8,26.2 637.5,25 C638.2,23.8 638.3,22.3 638.8,21 C639.3,19.7 640.1,18 640.5,17 C640.9,16 641.1,15.3 641.2,15" stroke="#1a62de"/>
<path d="M393.5,203.3 C394.9,203.2 398.1,202.9 402,202.7 C405.9,202.5 410.3,202.4 417,202.2 C423.7,202 435.7,201.8 442,201.6 C448.3,201.4 450.9,201.3 455,200.9 C459.1,200.5 462.8,200.3 466.7,199.4 C470.6,198.4 474.9,196.3 478.4,195.3 C481.9,194.3 484.1,193.8 487.7,193.5 C491.3,193.2 496.3,193.3 500,193.3 C503.7,193.3 506.4,193.5 509.7,193.3 C513,193.2 516.7,193 519.5,192.4 C522.3,191.8 523.9,191.1 526.3,189.9 C528.7,188.7 531.4,187.6 534.1,185.1 C536.8,182.6 539.7,178.3 542.6,175 C545.5,171.7 548.1,169.2 551.4,165 C554.7,160.8 558.5,155.8 562.4,150 C566.3,144.2 571.1,135.7 574.6,130 C578.1,124.3 580.5,121 583.6,116 C586.8,111 590.7,104.3 593.5,100 C596.3,95.7 598.2,93.3 600.3,90 C602.4,86.7 604.3,83.3 606.2,80 C608.1,76.7 609.7,73.3 611.6,70 C613.5,66.7 615.5,63.3 617.5,60 C619.5,56.7 621.8,53.3 623.8,50 C625.8,46.7 627.6,43.3 629.5,40 C631.4,36.7 633.4,32.5 635.1,30 C636.8,27.5 638.4,26.5 639.7,25 C641,23.5 642,22.3 642.7,21 C643.4,19.7 643.7,18 644,17 C644.3,16 644.5,15.3 644.6,15" stroke="#2aa662"/>
</g>
<rect x="393.5" y="15.2" width="290" height="232.2" fill="none" stroke="#111" stroke-width="1.7"/>
<line x1="403.3" y1="43.5" x2="427.6" y2="43.5" stroke="#454545" stroke-width="2.8" stroke-linecap="round"/>
<text x="434" y="47.7" class="lg">concentration ratio 1:1</text>
<line x1="403.3" y1="58.7" x2="427.6" y2="58.7" stroke="#f03a3c" stroke-width="2.8" stroke-linecap="round"/>
<text x="434" y="62.9" class="lg">concentration ratio 1.5:1</text>
<line x1="403.3" y1="73.9" x2="427.6" y2="73.9" stroke="#1a62de" stroke-width="2.8" stroke-linecap="round"/>
<text x="434" y="78.1" class="lg">concentration ratio 2:1</text>
<line x1="403.3" y1="89.1" x2="427.6" y2="89.1" stroke="#2aa662" stroke-width="2.8" stroke-linecap="round"/>
<text x="434" y="93.3" class="lg">concentration ratio 3:1</text>
<text x="538.5" y="279.5" class="at2" text-anchor="middle">Potential / V vs RHE</text>
<text transform="translate(359.8,124.4) rotate(-90)" class="at at3" text-anchor="middle">Current Density / mA cm<tspan class="sup" dy="-4.5">-2</tspan></text>
<text x="354.6" y="16.7" class="pl" style="font-size:24.5px;stroke:#000;stroke-width:0.25px">b</text>
<line x1="253.5" y1="532.3" x2="253.5" y2="527.8" stroke="#111" stroke-width="1.3"/>
<line x1="282.9" y1="532.3" x2="282.9" y2="530" stroke="#111" stroke-width="1.3"/>
<line x1="312.2" y1="532.3" x2="312.2" y2="527.8" stroke="#111" stroke-width="1.3"/>
<line x1="341.6" y1="532.3" x2="341.6" y2="530" stroke="#111" stroke-width="1.3"/>
<line x1="370.9" y1="532.3" x2="370.9" y2="527.8" stroke="#111" stroke-width="1.3"/>
<line x1="400.2" y1="532.3" x2="400.2" y2="530" stroke="#111" stroke-width="1.3"/>
<line x1="429.6" y1="532.3" x2="429.6" y2="527.8" stroke="#111" stroke-width="1.3"/>
<line x1="459" y1="532.3" x2="459" y2="530" stroke="#111" stroke-width="1.3"/>
<line x1="488.3" y1="532.3" x2="488.3" y2="527.8" stroke="#111" stroke-width="1.3"/>
<line x1="224.2" y1="520.7" x2="226.5" y2="520.7" stroke="#111" stroke-width="1.3"/>
<line x1="224.2" y1="509.1" x2="228.7" y2="509.1" stroke="#111" stroke-width="1.3"/>
<line x1="224.2" y1="497.5" x2="226.5" y2="497.5" stroke="#111" stroke-width="1.3"/>
<line x1="224.2" y1="485.9" x2="228.7" y2="485.9" stroke="#111" stroke-width="1.3"/>
<line x1="224.2" y1="474.2" x2="226.5" y2="474.2" stroke="#111" stroke-width="1.3"/>
<line x1="224.2" y1="462.6" x2="228.7" y2="462.6" stroke="#111" stroke-width="1.3"/>
<line x1="224.2" y1="451" x2="226.5" y2="451" stroke="#111" stroke-width="1.3"/>
<line x1="224.2" y1="439.4" x2="228.7" y2="439.4" stroke="#111" stroke-width="1.3"/>
<line x1="224.2" y1="427.8" x2="226.5" y2="427.8" stroke="#111" stroke-width="1.3"/>
<line x1="224.2" y1="416.2" x2="228.7" y2="416.2" stroke="#111" stroke-width="1.3"/>
<line x1="224.2" y1="404.6" x2="226.5" y2="404.6" stroke="#111" stroke-width="1.3"/>
<line x1="224.2" y1="393" x2="228.7" y2="393" stroke="#111" stroke-width="1.3"/>
<line x1="224.2" y1="381.4" x2="226.5" y2="381.4" stroke="#111" stroke-width="1.3"/>
<line x1="224.2" y1="369.8" x2="228.7" y2="369.8" stroke="#111" stroke-width="1.3"/>
<line x1="224.2" y1="358.1" x2="226.5" y2="358.1" stroke="#111" stroke-width="1.3"/>
<line x1="224.2" y1="346.5" x2="228.7" y2="346.5" stroke="#111" stroke-width="1.3"/>
<line x1="224.2" y1="334.9" x2="226.5" y2="334.9" stroke="#111" stroke-width="1.3"/>
<line x1="224.2" y1="323.3" x2="228.7" y2="323.3" stroke="#111" stroke-width="1.3"/>
<line x1="224.2" y1="311.7" x2="226.5" y2="311.7" stroke="#111" stroke-width="1.3"/>
<text x="253.5" y="545.1" class="tl" text-anchor="middle">1.0</text>
<text x="312.2" y="545.1" class="tl" text-anchor="middle">1.5</text>
<text x="370.9" y="545.1" class="tl" text-anchor="middle">2.0</text>
<text x="429.6" y="545.1" class="tl" text-anchor="middle">2.5</text>
<text x="488.3" y="545.1" class="tl" text-anchor="middle">3.0</text>
<text x="218.7" y="535.1" class="tl" text-anchor="end">0</text>
<text x="218.7" y="511.9" class="tl" text-anchor="end">50</text>
<text x="218.7" y="488.7" class="tl" text-anchor="end">100</text>
<text x="218.7" y="465.4" class="tl" text-anchor="end">150</text>
<text x="218.7" y="442.2" class="tl" text-anchor="end">200</text>
<text x="218.7" y="419" class="tl" text-anchor="end">250</text>
<text x="218.7" y="395.8" class="tl" text-anchor="end">300</text>
<text x="218.7" y="372.6" class="tl" text-anchor="end">350</text>
<text x="218.7" y="349.3" class="tl" text-anchor="end">400</text>
<text x="218.7" y="326.1" class="tl" text-anchor="end">450</text>
<text x="218.7" y="302.9" class="tl" text-anchor="end">500</text>
<polyline points="253.3,464.2 311.9,461.4 370.8,488.8 488,434.9" fill="none" stroke="#3c3c3c" stroke-width="1.8" stroke-dasharray="8.5 8.9"/>
<circle cx="253.3" cy="464.2" r="3.1" fill="url(#g111)"/>
<circle cx="311.9" cy="461.4" r="3.1" fill="url(#g111)"/>
<circle cx="370.8" cy="488.8" r="3.1" fill="url(#g111)"/>
<circle cx="488" cy="434.9" r="3.1" fill="url(#g111)"/>
<polyline points="253.3,384.8 311.9,399.6 370.5,398.9 488,355" fill="none" stroke="#ff2828" stroke-width="1.8" stroke-dasharray="8.5 8.9"/>
<circle cx="253.3" cy="384.8" r="3.1" fill="url(#gff0000)"/>
<circle cx="311.9" cy="399.6" r="3.1" fill="url(#gff0000)"/>
<circle cx="370.5" cy="398.9" r="3.1" fill="url(#gff0000)"/>
<circle cx="488" cy="355" r="3.1" fill="url(#gff0000)"/>
<polyline points="253.3,449.8 311.9,467.3 370.6,412.8 488,393.8" fill="none" stroke="#1f70ea" stroke-width="1.8"/>
<circle cx="253.3" cy="449.8" r="3.1" fill="url(#g0a0aff)"/>
<circle cx="311.9" cy="467.3" r="3.1" fill="url(#g0a0aff)"/>
<circle cx="370.6" cy="412.8" r="3.1" fill="url(#g0a0aff)"/>
<circle cx="488" cy="393.8" r="3.1" fill="url(#g0a0aff)"/>
<polyline points="253.2,349.6 311.6,358 370.4,335.1 488,331.7" fill="none" stroke="#10f010" stroke-width="1.8"/>
<circle cx="253.2" cy="349.6" r="3.1" fill="url(#g00f000)"/>
<circle cx="311.6" cy="358" r="3.1" fill="url(#g00f000)"/>
<circle cx="370.4" cy="335.1" r="3.1" fill="url(#g00f000)"/>
<circle cx="488" cy="331.7" r="3.1" fill="url(#g00f000)"/>
<rect x="224.2" y="300.1" width="293.5" height="232.2" fill="none" stroke="#111" stroke-width="1.7"/>
<line x1="395.3" y1="473.7" x2="404" y2="473.7" stroke="#3c3c3c" stroke-width="1.8"/>
<line x1="412.5" y1="473.7" x2="421.3" y2="473.7" stroke="#3c3c3c" stroke-width="1.8"/>
<circle cx="408.4" cy="473.7" r="2.9" fill="url(#g111)"/>
<text x="427.1" y="477.7" class="lg lgc">HER 10mA cm<tspan class="sup2" dy="-4.8">-2</tspan></text>
<line x1="395.3" y1="490" x2="404" y2="490" stroke="#ff2828" stroke-width="1.8"/>
<line x1="412.5" y1="490" x2="421.3" y2="490" stroke="#ff2828" stroke-width="1.8"/>
<circle cx="408.4" cy="490" r="2.9" fill="url(#gff0000)"/>
<text x="427.1" y="494" class="lg lgc">HER 50mA cm<tspan class="sup2" dy="-4.8">-2</tspan></text>
<line x1="395.3" y1="506.3" x2="421.3" y2="506.3" stroke="#1f70ea" stroke-width="1.8"/>
<circle cx="408.4" cy="506.3" r="2.9" fill="url(#g0a0aff)"/>
<text x="427.1" y="510.3" class="lg lgc">OER 10mA cm<tspan class="sup2" dy="-4.8">-2</tspan></text>
<line x1="395.3" y1="522.6" x2="421.3" y2="522.6" stroke="#10f010" stroke-width="1.8"/>
<circle cx="408.4" cy="522.6" r="2.9" fill="url(#g00f000)"/>
<text x="427.1" y="526.6" class="lg lgc">OER 50mA cm<tspan class="sup2" dy="-4.8">-2</tspan></text>
<text x="371" y="563.7" class="at" text-anchor="middle">Co Fe concentration ratio</text>
<text transform="translate(190.2,411.3) rotate(-90)" class="at2" text-anchor="middle">OverPotential / mA</text>
<text x="183.7" y="302.8" class="pl" style="font-size:24.5px;stroke:#000;stroke-width:0.2px">c</text>
</svg></body></html>
